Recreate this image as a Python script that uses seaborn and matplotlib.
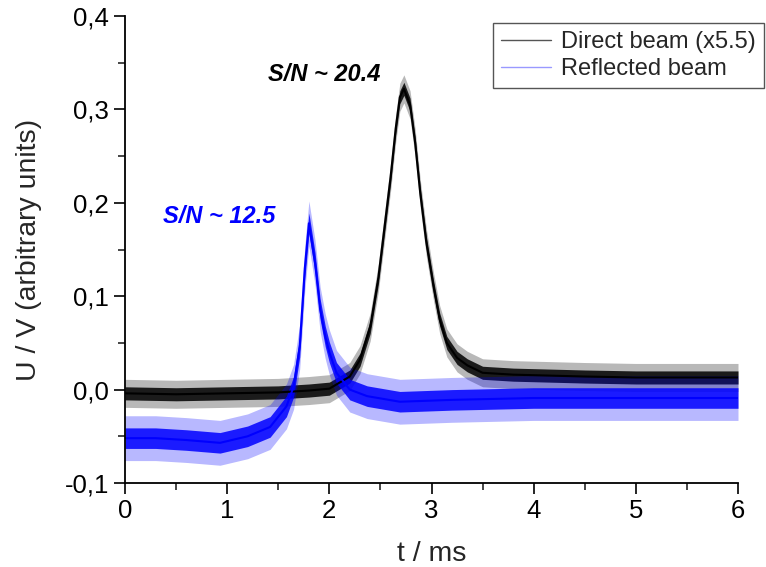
import numpy as np
import pandas as pd
import matplotlib
matplotlib.use("Agg")
import matplotlib.pyplot as plt
from matplotlib.ticker import MultipleLocator, FuncFormatter
from matplotlib.lines import Line2D
import seaborn as sns

# ---- data (centre of the noisy trace + noise envelope half-widths) ----
t_direct = [0.0, 0.5, 1.0, 1.5, 1.8, 2.0, 2.2, 2.3, 2.4, 2.48, 2.54, 2.6, 2.65, 2.69, 2.73,
            2.79, 2.84, 2.89, 2.95, 3.02, 3.08, 3.15, 3.25, 3.35, 3.5, 3.8, 4.5, 5.0, 5.5, 6.0]
u_direct = [-0.004, -0.005, -0.004, -0.003, -0.001, 0.001, 0.014, 0.032, 0.067, 0.12, 0.174,
            0.228, 0.28, 0.313, 0.322, 0.305, 0.264, 0.21, 0.157, 0.11, 0.075, 0.05, 0.034,
            0.026, 0.018, 0.016, 0.014, 0.013, 0.013, 0.013]
dense_direct = 0.007   # half-width of dense noise band
spike_direct = 0.015   # half-width of noise spikes

t_refl = [0.0, 0.3, 0.6, 0.93, 1.2, 1.42, 1.58, 1.65, 1.71, 1.76, 1.80, 1.86, 1.91, 1.96,
          2.0, 2.07, 2.2, 2.37, 2.69, 3.2, 4.0, 5.0, 6.0]
u_refl = [-0.052, -0.052, -0.054, -0.057, -0.05, -0.04, -0.018, 0.003, 0.046, 0.13, 0.178,
          0.136, 0.086, 0.057, 0.04, 0.018, 0.0, -0.007, -0.013, -0.011, -0.009, -0.009, -0.009]
dense_refl = 0.011
spike_refl = 0.024

labels = ["Direct beam (x5.5)", "Reflected beam"]
colors = ["#000000", "#0000ff"]
legend_colors = ["#555555", "#9999ff"]
x_ticks = [0, 1, 2, 3, 4, 5, 6]
y_ticks = [-0.1, 0.0, 0.1, 0.2, 0.3, 0.4]

df = pd.concat([
    pd.DataFrame({"t": t_direct, "u": u_direct, "beam": labels[0]}),
    pd.DataFrame({"t": t_refl, "u": u_refl, "beam": labels[1]}),
], ignore_index=True)

sns.set_theme(style="ticks")
plt.rcParams["font.family"] = ["Liberation Sans", "DejaVu Sans"]

fig = plt.figure(figsize=(7.66, 5.67), dpi=100)
ax = fig.add_axes([125/766, 1-483/567, (738-125)/766, (483-16)/567])

series = [(labels[0], dense_direct, spike_direct, colors[0]),
          (labels[1], dense_refl, spike_refl, colors[1])]
for (lab, dh, sh, c) in series:
    sub = df[df["beam"] == lab]
    tt = sub["t"].to_numpy()
    uu = sub["u"].to_numpy()
    ax.fill_between(tt, uu - sh, uu + sh, color=c, alpha=0.28, lw=0)
    ax.fill_between(tt, uu - dh, uu + dh, color=c, alpha=0.85, lw=0)
    sns.lineplot(data=sub, x="t", y="u", color=c, linewidth=1.5, ax=ax,
                 legend=False, sort=False)

ax.set_xlim(0, 6)
ax.set_ylim(-0.1, 0.4)
ax.set_xticks(x_ticks)
ax.set_yticks(y_ticks)
ax.xaxis.set_minor_locator(MultipleLocator(0.5))
ax.yaxis.set_minor_locator(MultipleLocator(0.05))
ax.yaxis.set_major_formatter(FuncFormatter(lambda v, p: f"{v:.1f}".replace(".", ",").replace("-0,0", "0,0")))
ax.xaxis.set_major_formatter(FuncFormatter(lambda v, p: f"{v:.0f}"))
ax.tick_params(which="major", direction="out", length=8, width=1.2, labelsize=18.5, colors="black")
ax.tick_params(which="minor", direction="out", length=5, width=1.2)
for s in ["top", "right"]:
    ax.spines[s].set_visible(False)
for s in ["left", "bottom"]:
    ax.spines[s].set_linewidth(1.3)
    ax.spines[s].set_color("black")

ax.set_xlabel("t / ms", fontsize=20.5, labelpad=13)
ax.set_ylabel("U / V (arbitrary units)", fontsize=20.5, labelpad=16)

ax.text(1.40, 0.337, "S/N ~ 20.4", color=colors[0], fontsize=17, fontweight="bold",
        fontstyle="italic", va="center", ha="left")
ax.text(0.37, 0.185, "S/N ~ 12.5", color=colors[1], fontsize=17, fontweight="bold",
        fontstyle="italic", va="center", ha="left")

handles = [Line2D([], [], color=legend_colors[0], lw=1.0), Line2D([], [], color=legend_colors[1], lw=1.0)]
leg = fig.legend(handles, labels, loc="upper right", bbox_to_anchor=(764/766, 1-23/567),
                 bbox_transform=fig.transFigure, borderaxespad=0, fancybox=False,
                 edgecolor="#555555", framealpha=1, fontsize=17, handlelength=2.1,
                 handletextpad=0.42, borderpad=0.35, labelspacing=0.2)
leg.get_frame().set_linewidth(1.0)

fig.savefig("out.png", dpi=100)
